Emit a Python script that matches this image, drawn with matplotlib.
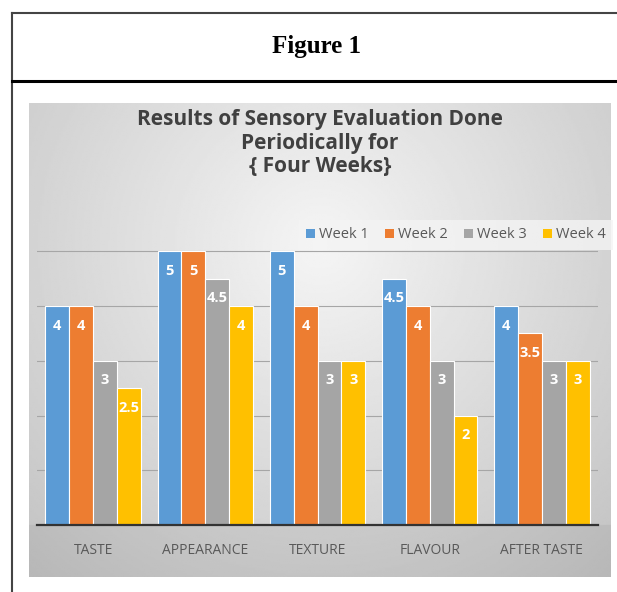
# sensory evaluation bar chart, figure 1
import numpy as np
import matplotlib.pyplot as plt
from matplotlib.patches import Patch
from matplotlib.lines import Line2D

categories = ['TASTE', 'APPEARANCE', 'TEXTURE', 'FLAVOUR', 'AFTER TASTE']
week1 = [4, 5, 5, 4.5, 4]
week2 = [4, 5, 4, 4, 3.5]
week3 = [3, 4.5, 3, 3, 3]
week4 = [2.5, 4, 3, 2, 3]
series_names = ['Week 1', 'Week 2', 'Week 3', 'Week 4']
colors = ['#5B9BD5', '#ED7D31', '#A5A5A5', '#FFC000']

W, H = 617, 592
fig = plt.figure(figsize=(W / 100, H / 100), dpi=100)
fig.patch.set_facecolor('white')

# outer table lines (figure pixels)
def fx(x): return x / W
def fy(y): return 1 - y / H
fig.add_artist(Line2D([fx(12), fx(12)], [fy(13), 0], color='#444444', lw=1.5))
fig.add_artist(Line2D([fx(12), 1], [fy(13), fy(13)], color='#444444', lw=1.5))
fig.add_artist(Line2D([fx(12), 1], [fy(81), fy(81)], color='black', lw=2.2))
fig.text(fx(316), fy(46), 'Figure 1', family='Liberation Serif', weight='bold',
         fontsize=18, ha='center', va='center', color='black')

# chart panel background with soft gradient
bg = fig.add_axes([fx(29), fy(577), (611 - 29) / W, (577 - 103) / H])
gx, gy = np.meshgrid(np.linspace(0, 1, 300), np.linspace(0, 1, 300))
dist = np.sqrt(((gx - 0.5) * 1.1) ** 2 + ((gy - 0.3) * 0.9) ** 2)
val = np.clip(0.96 - 0.24 * dist, 0, 1)
val[gy > 0.89] -= 0.04
bg.imshow(val, cmap='gray', vmin=0, vmax=1, aspect='auto', extent=(0, 1, 1, 0))
bg.set_axis_off()

# title
title_lines = ['Results of Sensory Evaluation Done', 'Periodically for', '{ Four Weeks}']
for i, line in enumerate(title_lines):
    fig.text(fx(320), fy(119 + 24 * i), line, family='Open Sans', weight='bold',
             fontsize=15, ha='center', va='center', color='#404040')

# plot area
ax = fig.add_axes([fx(37), fy(525), (598 - 37) / W, (525 - 224) / H])
ax.patch.set_alpha(0)
x = np.arange(len(categories))
bw = 0.2125
data = [week1, week2, week3, week4]
for k, (vals, c) in enumerate(zip(data, colors)):
    pos = x + (k - 1.5) * bw
    bars = ax.bar(pos, vals, width=bw, color=c, edgecolor='white', linewidth=0.8, zorder=3)
    for b, v in zip(bars, vals):
        ax.annotate(f'{v:g}', (b.get_x() + b.get_width() / 2, v), xytext=(0, -14),
                    textcoords='offset points', ha='center', va='center',
                    color='white', fontsize=10.5, weight='bold', family='Open Sans', zorder=4)

ax.set_xlim(-0.5, len(categories) - 0.5)
ax.set_ylim(0, 5.5)
ax.set_yticks([1, 2, 3, 4, 5])
ax.yaxis.grid(True, color='#a6a6a6', lw=0.8, zorder=0)
ax.tick_params(axis='y', left=False, labelleft=False)
ax.set_xticks(x)
ax.set_xticklabels(categories, family='Open Sans', fontsize=10, color='#595959')
ax.tick_params(axis='x', length=0, pad=13)
for s in ['top', 'right', 'left']:
    ax.spines[s].set_visible(False)
ax.spines['bottom'].set_color('#333333')
ax.spines['bottom'].set_linewidth(1.6)
ax.spines['bottom'].set_zorder(5)

handles = [Patch(facecolor=c, edgecolor='none') for c in colors]
leg = fig.legend(handles, series_names, loc='center', bbox_to_anchor=(fx(456), fy(235)),
                 ncol=4, frameon=True, handlelength=0.6, handleheight=0.6,
                 handletextpad=0.3, columnspacing=1.1, borderpad=0.5,
                 prop={'family': 'Open Sans', 'size': 10.5})
leg.get_frame().set_facecolor('#f4f4f4')
leg.get_frame().set_edgecolor('none')
leg.get_frame().set_boxstyle('square', pad=0)
for t in leg.get_texts():
    t.set_color('#595959')

fig.savefig('out.png', dpi=100)
